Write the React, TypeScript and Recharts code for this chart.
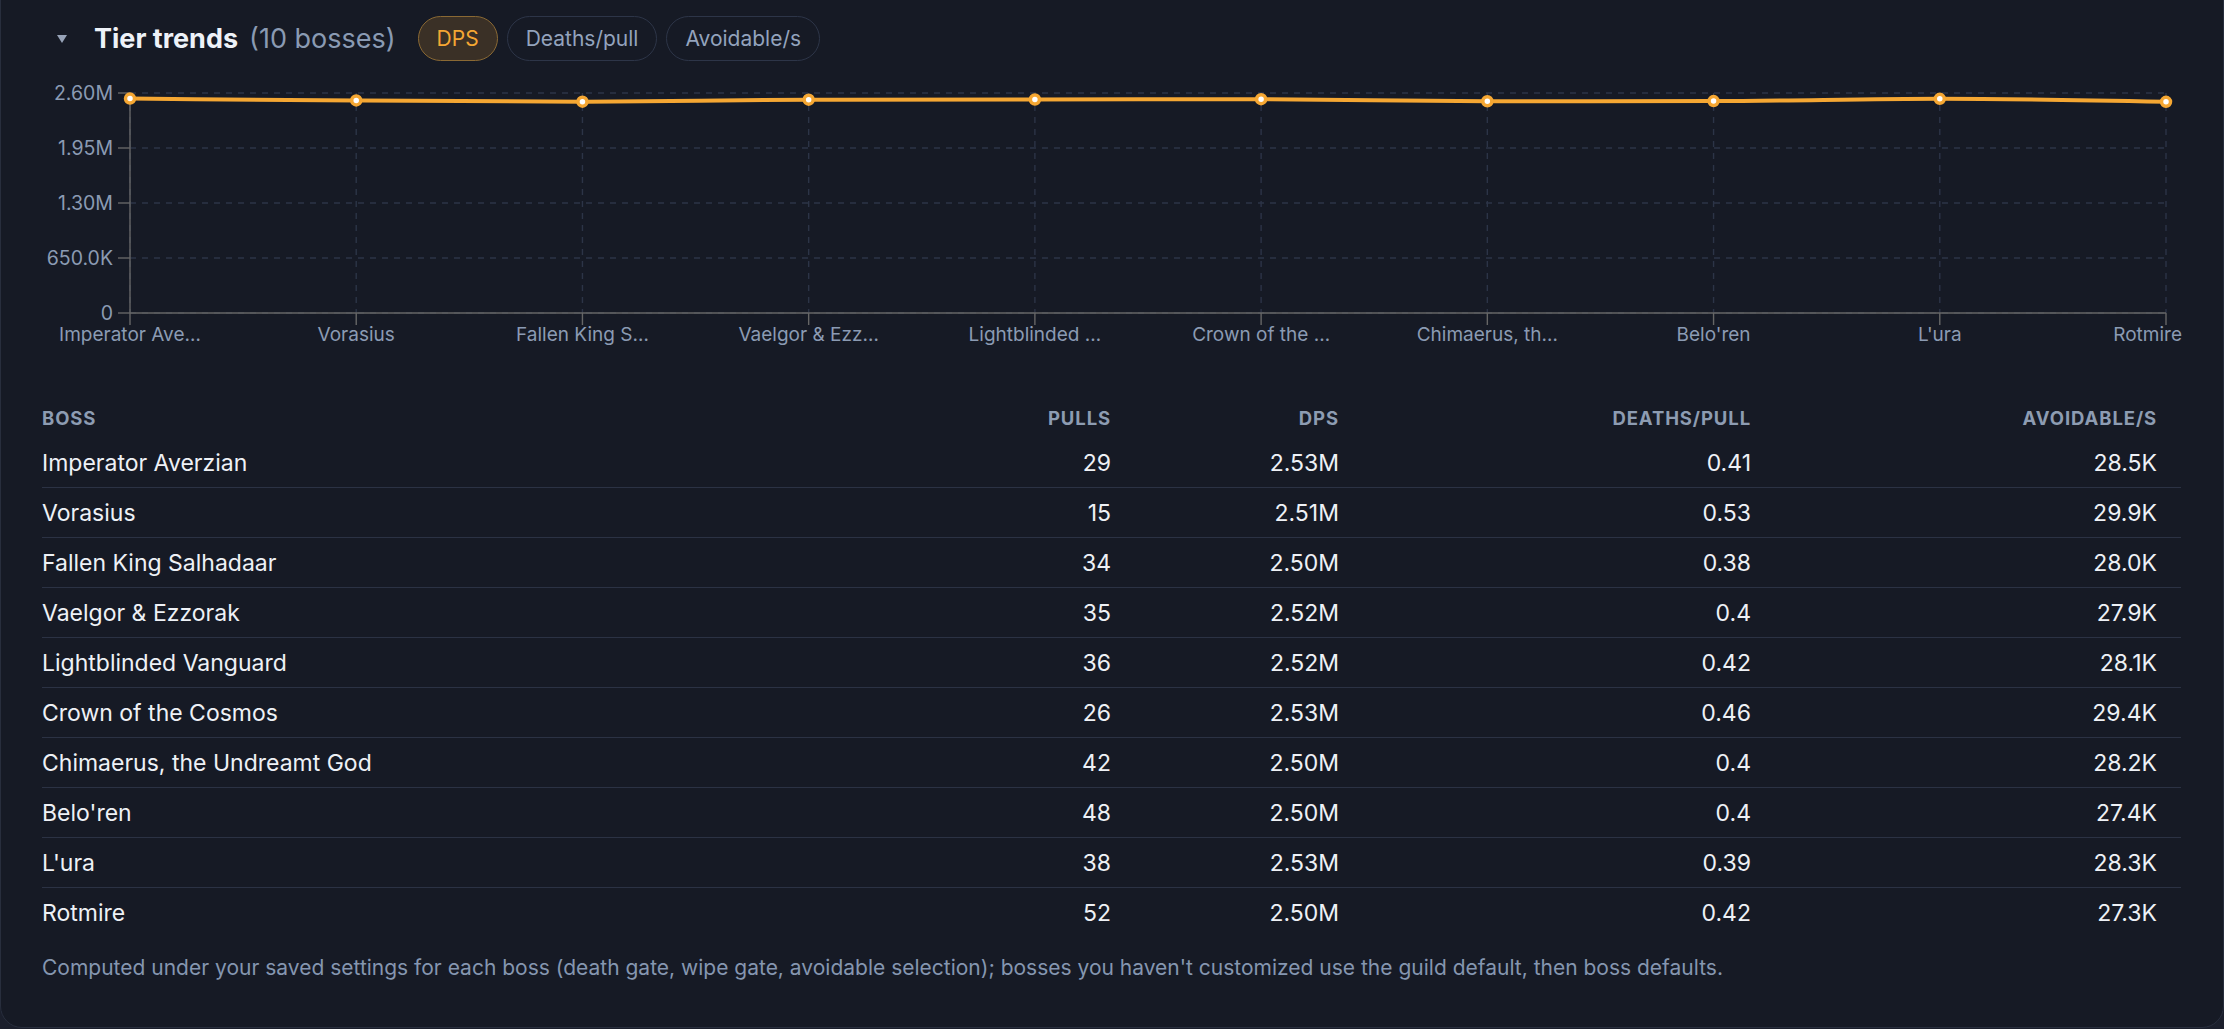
import { LineChart, Line, XAxis, YAxis, CartesianGrid } from 'recharts';

// ── Data ──────────────────────────────────────────────────────────────────────

const BOSSES = [
    'Imperator Averzian',
    'Vorasius',
    'Fallen King Salhadaar',
    'Vaelgor & Ezzorak',
    'Lightblinded Vanguard',
    'Crown of the Cosmos',
    'Chimaerus, the Undreamt God',
    "Belo'ren",
    "L'ura",
    'Rotmire',
];
const PULLS = [29, 15, 34, 35, 36, 26, 42, 48, 38, 52];
const DPS = [2534000, 2512000, 2498000, 2521000, 2523000, 2527000, 2502000, 2504000, 2531000, 2496000];
const DEATHS_PER_PULL = [0.41, 0.53, 0.38, 0.4, 0.42, 0.46, 0.4, 0.4, 0.39, 0.42];
const AVOIDABLE_PER_SEC = [28500, 29900, 28000, 27900, 28100, 29400, 28200, 27400, 28300, 27300];
const Y_TICKS = [0, 650000, 1300000, 1950000, 2600000];
const METRICS = ['DPS', 'Deaths/pull', 'Avoidable/s'];

const chartData = BOSSES.map((boss, i) => ({ boss, dps: DPS[i] }));

// ── Helpers ───────────────────────────────────────────────────────────────────

const FONT = 'Inter, "Noto Sans", sans-serif';
const ORANGE = '#f5a733';
const AXIS_TEXT = '#8b9bb3';

function fmt(v: number) {
    if (v >= 1e6) return `${(v / 1e6).toFixed(2)}M`;
    if (v >= 1e3) return `${(v / 1e3).toFixed(1)}K`;
    return `${v}`;
}

function truncate(s: string) {
    return s.length > 14 ? `${s.slice(0, 13)}…` : s;
}

function XTick({ x, y, payload, index }: any) {
    const last = index === BOSSES.length - 1;
    return (
        <text
            x={last ? x + 16 : x}
            y={y}
            dy="0.71em"
            textAnchor={last ? 'end' : 'middle'}
            fill={AXIS_TEXT}
            fontSize={19}
            fontFamily={FONT}
        >
            {truncate(payload.value)}
        </text>
    );
}

// ── Component ─────────────────────────────────────────────────────────────────

const COLS = [
    { label: 'PULLS', right: 1070, get: (i: number) => `${PULLS[i]}` },
    { label: 'DPS', right: 842, get: (i: number) => fmt(DPS[i]) },
    { label: 'DEATHS/PULL', right: 430, get: (i: number) => `${DEATHS_PER_PULL[i]}` },
    { label: 'AVOIDABLE/S', right: 24, get: (i: number) => fmt(AVOIDABLE_PER_SEC[i]) },
];

export default function App() {
    return (
        <div style={{ position: 'relative', width: 2224, height: 1029, overflow: 'hidden', fontFamily: FONT }}>
            <style>{`body{margin:0;background:#1b1f2c;}`}</style>
            <div
                style={{
                    position: 'absolute', left: 0, top: -40, width: 2224, height: 1068,
                    boxSizing: 'border-box', background: '#161a25',
                    border: '1.4px solid #282e3d', borderRadius: 22,
                }}
            />

            {/* header */}
            <div style={{ position: 'absolute', left: 56, top: 16, height: 45, display: 'flex', alignItems: 'center' }}>
                <svg width={12} height={10} style={{ marginRight: 26 }}>
                    <polygon points="1,1 11,1 6,9" fill="#97a3b8" />
                </svg>
                <span style={{ color: '#eef2f8', fontSize: 27, fontWeight: 700 }}>Tier trends</span>
                <span style={{ color: '#8a9ab3', fontSize: 27, marginLeft: 11 }}>(10 bosses)</span>
                <div style={{ display: 'flex', gap: 9, marginLeft: 22 }}>
                    {METRICS.map((m, i) => (
                        <div
                            key={m}
                            style={{
                                height: 45, boxSizing: 'border-box', borderRadius: 23,
                                padding: '0 18px', display: 'flex', alignItems: 'center',
                                fontSize: 21,
                                border: `1.4px solid ${i === 0 ? '#8a6934' : '#2d3548'}`,
                                background: i === 0 ? '#3a3026' : 'transparent',
                                color: i === 0 ? ORANGE : '#93a3bd',
                            }}
                        >
                            {m}
                        </div>
                    ))}
                </div>
            </div>

            {/* chart */}
            <div style={{ position: 'absolute', left: 42, top: 80 }}>
                <LineChart width={2140} height={273} data={chartData} margin={{ top: 13, right: 16, left: 0, bottom: 0 }}>
                    <CartesianGrid stroke="#2c3447" strokeWidth={1.4} strokeDasharray="6 6" />
                    <XAxis
                        dataKey="boss"
                        interval={0}
                        height={40}
                        tickSize={12}
                        tickMargin={3}
                        strokeWidth={1.4}
                        tick={<XTick />}
                    />
                    <YAxis
                        width={88}
                        domain={[0, 2600000]}
                        ticks={Y_TICKS}
                        tickFormatter={fmt}
                        tickSize={12}
                        tickMargin={5}
                        strokeWidth={1.4}
                        tick={{ fill: AXIS_TEXT, fontSize: 19.5, fontFamily: FONT }}
                    />
                    <Line
                        type="monotone"
                        dataKey="dps"
                        stroke={ORANGE}
                        strokeWidth={4}
                        dot={{ r: 4.5, fill: '#ffffff', stroke: ORANGE, strokeWidth: 3.5 }}
                        isAnimationActive={false}
                    />
                </LineChart>
            </div>

            {/* table */}
            <div style={{ position: 'absolute', left: 42, top: 398, width: 2139 }}>
                <div style={{ position: 'relative', height: 40, fontSize: 18.5, fontWeight: 700, letterSpacing: 0.9, color: '#8d9cb2' }}>
                    <span style={{ position: 'absolute', left: 0, top: '50%', transform: 'translateY(-50%)' }}>BOSS</span>
                    {COLS.map(c => (
                        <span key={c.label} style={{ position: 'absolute', right: c.right, top: '50%', transform: 'translateY(-50%)' }}>
                            {c.label}
                        </span>
                    ))}
                </div>
                {BOSSES.map((b, i) => (
                    <div
                        key={b}
                        style={{
                            position: 'relative', height: 50, boxSizing: 'border-box',
                            borderBottom: i < BOSSES.length - 1 ? '1.4px solid #2b3244' : 'none',
                            fontSize: 23, color: '#eef1f6',
                        }}
                    >
                        <span style={{ position: 'absolute', left: 0, top: '50%', transform: 'translateY(-50%)' }}>{b}</span>
                        {COLS.map(c => (
                            <span key={c.label} style={{ position: 'absolute', right: c.right, top: '50%', transform: 'translateY(-50%)' }}>
                                {c.get(i)}
                            </span>
                        ))}
                    </div>
                ))}
            </div>

            {/* footer */}
            <div style={{ position: 'absolute', left: 42, top: 955, fontSize: 21, color: '#8596b0', whiteSpace: 'nowrap' }}>
                Computed under your saved settings for each boss (death gate, wipe gate, avoidable selection); bosses you haven't customized use the guild default, then boss defaults.
            </div>
        </div>
    );
}
